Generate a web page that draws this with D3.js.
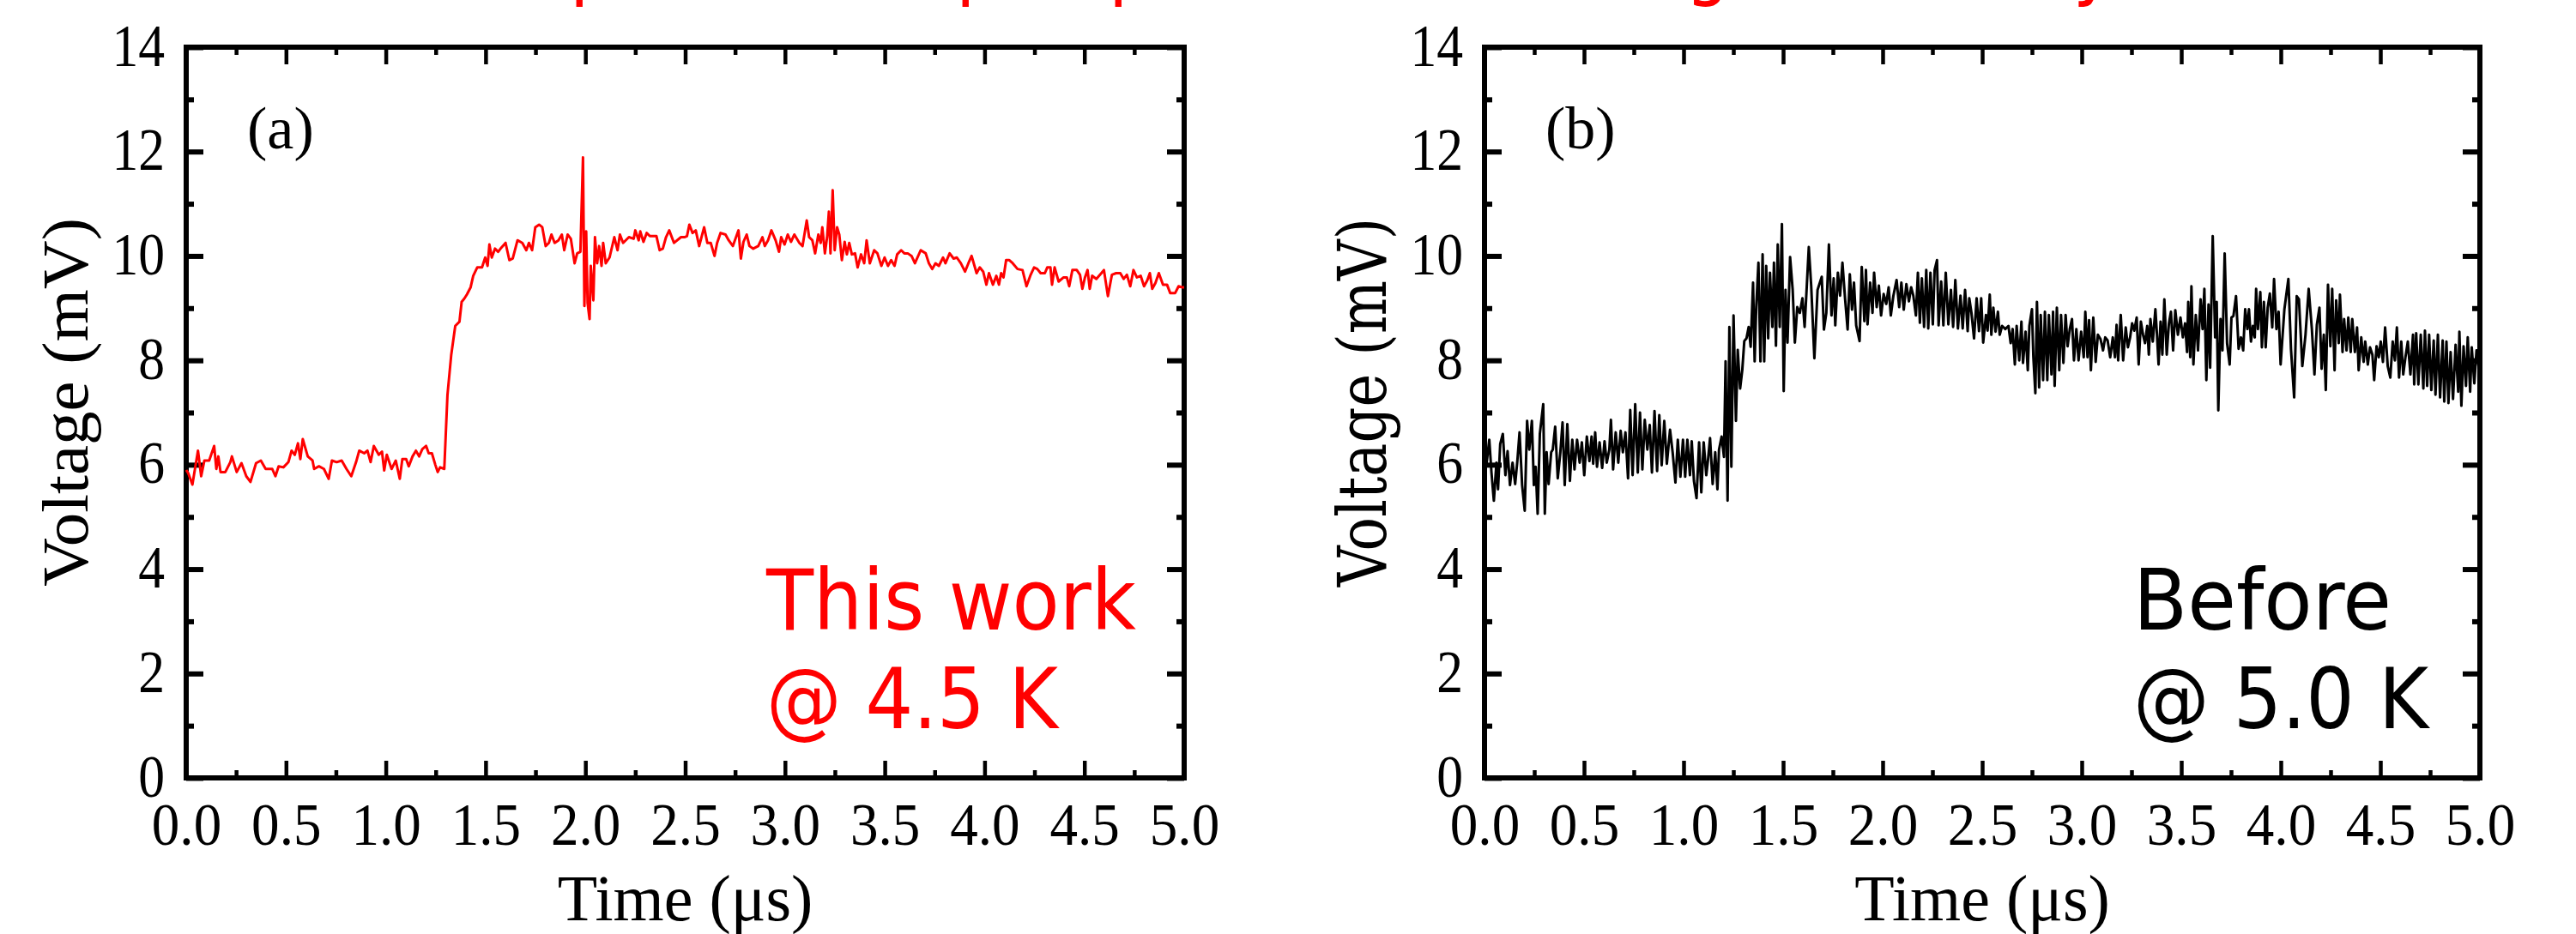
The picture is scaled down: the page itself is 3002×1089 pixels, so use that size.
<!DOCTYPE html>
<html>
<head>
<meta charset="utf-8">
<script src="https://d3js.org/d3.v7.min.js"></script>
<style>
  body { margin: 0; background: #fff; }
</style>
</head>
<body>
<script>

// ---- data ----
var timeTicks = [0, 0.5, 1, 1.5, 2, 2.5, 3, 3.5, 4, 4.5, 5];
var timeMinor = [0.25, 0.75, 1.25, 1.75, 2.25, 2.75, 3.25, 3.75, 4.25, 4.75];
var voltTicks = [0, 2, 4, 6, 8, 10, 12, 14];
var voltMinor = [1, 3, 5, 7, 9, 11, 13];

// (a) this work @ 4.5 K, [time us, voltage mV]
var redTrace = [[0.000,5.90],[0.010,5.84],[0.031,5.62],[0.059,6.27],[0.075,5.78],[0.091,6.08],[0.115,6.08],[0.140,6.36],[0.151,5.92],[0.161,6.16],[0.172,5.86],[0.196,5.86],[0.221,6.05],[0.229,6.16],[0.253,5.86],[0.277,6.03],[0.301,5.78],[0.322,5.67],[0.350,6.03],[0.374,6.08],[0.398,5.92],[0.431,5.92],[0.447,5.78],[0.463,5.97],[0.487,5.95],[0.512,6.05],[0.528,6.27],[0.544,6.19],[0.560,6.41],[0.572,6.11],[0.584,6.49],[0.609,6.16],[0.633,6.08],[0.641,5.92],[0.665,5.97],[0.690,5.92],[0.714,5.73],[0.730,6.08],[0.754,6.05],[0.779,6.08],[0.803,5.92],[0.827,5.78],[0.851,6.05],[0.867,6.27],[0.892,6.22],[0.908,6.27],[0.924,6.05],[0.940,6.36],[0.965,6.19],[0.981,6.25],[0.992,5.89],[1.005,6.19],[1.029,5.92],[1.050,6.08],[1.070,5.73],[1.083,6.11],[1.102,6.11],[1.115,5.97],[1.134,6.16],[1.151,6.27],[1.167,6.16],[1.183,6.30],[1.202,6.36],[1.215,6.22],[1.231,6.22],[1.248,6.00],[1.260,5.86],[1.272,5.95],[1.293,5.92],[1.309,7.34],[1.328,8.11],[1.348,8.66],[1.369,8.74],[1.380,9.12],[1.393,9.18],[1.406,9.26],[1.425,9.40],[1.438,9.62],[1.458,9.78],[1.482,9.78],[1.498,9.97],[1.510,9.81],[1.519,10.22],[1.531,9.97],[1.547,10.14],[1.563,10.08],[1.579,10.16],[1.600,10.25],[1.619,9.92],[1.636,9.95],[1.660,10.30],[1.684,10.25],[1.704,10.11],[1.717,10.25],[1.733,10.11],[1.749,10.55],[1.768,10.60],[1.784,10.55],[1.801,10.19],[1.817,10.25],[1.830,10.41],[1.846,10.25],[1.865,10.30],[1.882,10.41],[1.894,10.11],[1.911,10.41],[1.927,10.33],[1.946,9.86],[1.959,10.05],[1.975,10.08],[1.988,11.89],[1.995,9.04],[2.004,10.47],[2.011,9.10],[2.021,8.79],[2.027,9.81],[2.040,9.15],[2.048,10.36],[2.059,9.86],[2.069,10.19],[2.081,9.81],[2.089,10.25],[2.102,9.86],[2.121,9.97],[2.145,10.36],[2.161,10.11],[2.173,10.41],[2.189,10.25],[2.218,10.36],[2.242,10.33],[2.250,10.49],[2.267,10.30],[2.275,10.47],[2.291,10.27],[2.307,10.44],[2.323,10.38],[2.356,10.38],[2.372,10.11],[2.388,10.14],[2.404,10.36],[2.420,10.49],[2.444,10.25],
  [2.479,10.36],[2.496,10.36],[2.509,10.38],[2.521,10.60],[2.537,10.44],[2.553,10.49],[2.570,10.19],[2.595,10.55],[2.611,10.25],[2.628,10.25],[2.647,10.00],[2.660,10.25],[2.677,10.44],[2.702,10.41],[2.718,10.30],[2.739,10.19],[2.767,10.49],[2.779,9.95],[2.792,10.27],[2.808,10.41],[2.822,10.19],[2.841,10.14],[2.866,10.19],[2.887,10.36],[2.899,10.19],[2.915,10.30],[2.932,10.49],[2.953,10.30],[2.970,10.08],[2.981,10.36],[2.998,10.22],[3.014,10.41],[3.030,10.27],[3.047,10.41],[3.072,10.25],[3.088,10.19],[3.109,10.68],[3.121,10.36],[3.137,10.30],[3.151,10.05],[3.167,10.41],[3.179,10.25],[3.187,10.55],[3.200,10.05],[3.211,10.36],[3.220,10.85],[3.228,10.05],[3.239,11.26],[3.249,10.11],[3.261,10.55],[3.272,10.41],[3.285,9.92],[3.299,10.27],[3.310,10.03],[3.322,10.25],[3.335,10.03],[3.351,10.05],[3.364,9.78],[3.381,10.03],[3.397,9.86],[3.409,10.30],[3.425,9.86],[3.447,10.11],[3.463,10.05],[3.483,9.81],[3.499,9.97],[3.516,9.81],[3.532,9.92],[3.549,9.81],[3.562,10.03],[3.582,10.11],[3.598,10.05],[3.615,10.05],[3.634,10.00],[3.651,9.86],[3.680,10.11],[3.705,10.05],[3.721,9.86],[3.738,9.75],[3.754,9.86],[3.771,9.81],[3.792,9.97],[3.804,9.86],[3.825,10.05],[3.845,9.95],[3.861,9.97],[3.881,9.86],[3.902,9.70],[3.919,9.86],[3.935,10.00],[3.960,9.67],[3.976,9.78],[3.993,9.70],[4.009,9.45],[4.022,9.67],[4.042,9.45],[4.059,9.62],[4.072,9.45],[4.083,9.67],[4.095,9.59],[4.108,9.92],[4.124,9.92],[4.141,9.86],[4.165,9.75],[4.190,9.73],[4.210,9.42],[4.231,9.64],[4.248,9.78],[4.264,9.75],[4.281,9.67],[4.302,9.67],[4.314,9.78],[4.330,9.78],[4.338,9.45],[4.351,9.78],[4.371,9.51],[4.396,9.59],[4.412,9.59],[4.424,9.42],[4.440,9.73],[4.462,9.73],[4.478,9.64],[4.490,9.37],[4.503,9.59],[4.516,9.73],[4.527,9.37],[4.539,9.62],[4.560,9.56],[4.585,9.67],[4.598,9.73],[4.618,9.23],[4.638,9.64],[4.659,9.67],[4.680,9.67],[4.697,9.56],[4.713,9.64],[4.730,9.42],[4.746,9.73],[4.763,9.59],[4.782,9.62],[4.799,9.42],[4.815,9.53],[4.828,9.67],[4.840,9.37],[4.856,9.48],[4.873,9.67],[4.894,9.45],[4.914,9.45],[4.930,9.29],[4.955,9.29],[4.972,9.42],[4.988,9.40],[5.000,9.40]];

// (b) before @ 5.0 K, [time us, voltage mV]
var blackTrace = [[0.000,6.10],[0.011,6.04],[0.024,6.48],[0.035,5.85],[0.047,5.31],[0.060,6.04],[0.068,5.53],[0.079,6.40],[0.092,6.59],[0.105,5.80],[0.116,6.26],[0.128,5.61],[0.141,6.04],[0.154,5.63],[0.165,6.07],[0.176,6.62],[0.189,5.61],[0.202,5.12],[0.214,6.84],[0.225,6.29],[0.238,6.84],[0.248,5.61],[0.257,5.96],[0.267,5.06],[0.278,6.59],[0.295,7.16],[0.303,5.06],[0.312,6.24],[0.322,5.63],[0.335,6.24],[0.343,6.29],[0.355,6.73],[0.368,5.74],[0.381,6.24],[0.392,6.81],[0.403,5.61],[0.416,6.78],[0.429,5.69],[0.441,6.48],[0.452,5.91],[0.465,6.48],[0.478,6.04],[0.489,6.43],[0.501,5.80],[0.514,6.54],[0.527,6.07],[0.538,6.54],[0.546,6.02],[0.556,6.62],[0.565,5.96],[0.578,6.43],[0.591,5.94],[0.603,6.45],[0.614,6.04],[0.627,6.29],[0.635,6.86],[0.646,5.91],[0.659,6.62],[0.672,6.04],[0.684,6.65],[0.695,6.24],[0.708,6.62],[0.721,5.74],[0.732,7.05],[0.744,5.80],[0.757,7.16],[0.770,5.85],[0.781,7.00],[0.793,5.91],[0.805,6.86],[0.818,6.29],[0.830,6.76],[0.841,5.85],[0.854,7.03],[0.867,5.88],[0.878,6.95],[0.890,5.99],[0.903,6.84],[0.916,6.02],[0.932,6.67],[0.945,6.24],[0.959,5.66],[0.971,6.48],[0.984,5.77],[0.997,6.48],[1.008,5.77],[1.019,6.48],[1.032,5.80],[1.041,6.45],[1.052,5.69],[1.065,5.36],[1.078,6.43],[1.089,5.47],[1.101,6.43],[1.114,5.80],[1.122,6.07],[1.133,6.51],[1.146,5.63],[1.159,6.24],[1.170,5.53],[1.178,6.29],[1.191,6.54],[1.203,6.15],
  [1.211,7.98],[1.221,5.31],[1.230,8.64],[1.240,5.96],[1.251,8.86],[1.263,6.84],[1.272,8.20],[1.284,7.46],[1.295,7.82],[1.305,8.37],[1.316,8.42],[1.327,8.64],[1.337,8.26],[1.349,9.49],[1.357,7.98],[1.365,9.02],[1.376,9.87],[1.386,7.98],[1.397,10.03],[1.405,7.98],[1.415,9.81],[1.425,8.42],[1.434,9.68],[1.446,8.64],[1.454,9.87],[1.464,8.28],[1.473,10.22],[1.483,8.64],[1.494,10.61],[1.503,7.41],[1.512,9.35],[1.522,8.34],[1.535,9.98],[1.548,9.35],[1.559,8.34],[1.571,9.02],[1.584,8.91],[1.597,9.19],[1.608,8.64],[1.619,9.43],[1.629,10.17],[1.641,9.43],[1.657,8.04],[1.673,9.35],[1.694,9.60],[1.705,8.59],[1.717,8.91],[1.730,10.22],[1.743,8.86],[1.754,9.57],[1.762,8.67],[1.775,9.68],[1.786,9.24],[1.798,9.87],[1.811,9.19],[1.824,8.59],[1.835,9.65],[1.846,8.97],[1.856,9.49],[1.867,8.67],[1.884,8.37],[1.895,9.79],[1.908,8.75],[1.916,9.73],[1.924,8.69],[1.937,9.49],[1.949,8.91],[1.957,9.68],[1.970,9.02],[1.981,9.43],[1.992,8.86],[2.005,9.27],[2.018,9.08],[2.030,9.40],[2.041,8.86],[2.054,9.24],[2.070,9.54],[2.083,9.02],[2.094,9.49],[2.106,8.97],[2.119,9.46],[2.132,9.13],[2.143,9.40],[2.154,9.24],[2.167,8.86],[2.177,9.68],[2.187,8.72],[2.197,9.57],[2.208,8.64],[2.219,9.73],[2.229,8.61],[2.240,9.68],[2.252,8.69],[2.261,9.73],[2.273,9.92],[2.281,8.67],[2.294,9.51],[2.305,8.67],[2.317,9.68],[2.330,8.69],[2.343,9.35],[2.354,8.64],[2.365,9.54],[2.378,8.61],[2.391,9.24],[2.402,8.61],[2.414,9.35],[2.427,8.56],[2.435,9.19],[2.446,8.91],[2.459,8.42],[2.472,9.19],[2.484,8.56],[2.495,9.19],[2.505,8.34],
  [2.519,8.87],[2.527,8.57],[2.538,9.26],[2.546,8.49],[2.556,9.01],[2.567,8.55],[2.579,8.93],[2.588,8.49],[2.600,8.66],[2.616,8.60],[2.632,8.66],[2.643,8.33],[2.653,8.60],[2.664,7.92],[2.673,8.66],[2.686,8.00],[2.697,8.74],[2.705,7.95],[2.718,8.55],[2.729,7.81],[2.737,8.66],[2.750,8.98],[2.757,8.06],[2.767,7.37],[2.775,9.12],[2.786,7.48],[2.794,8.87],[2.806,7.62],[2.815,8.93],[2.827,7.62],[2.835,8.87],[2.848,7.73],[2.856,8.93],[2.864,7.51],[2.875,9.01],[2.887,7.81],[2.896,8.87],[2.908,7.95],[2.919,8.87],[2.929,8.27],[2.940,8.60],[2.951,8.79],[2.961,8.00],[2.973,8.60],[2.984,8.00],[2.997,8.55],[3.010,8.06],[3.018,8.93],[3.029,8.06],[3.037,8.77],[3.046,7.81],[3.058,8.82],[3.070,7.97],[3.081,8.49],[3.094,8.41],[3.107,8.19],[3.118,8.44],[3.130,8.38],[3.143,8.06],[3.156,8.44],[3.167,8.06],[3.175,8.68],[3.183,8.00],[3.196,8.87],[3.208,8.00],[3.221,8.63],[3.232,8.25],[3.243,8.44],[3.253,8.71],[3.264,8.57],[3.276,8.82],[3.286,7.92],[3.297,8.74],[3.308,8.49],[3.318,8.33],[3.329,8.66],[3.337,8.11],[3.345,8.79],[3.357,8.36],[3.370,8.98],[3.378,8.49],[3.386,7.92],[3.396,8.74],[3.405,8.11],[3.415,9.17],[3.427,8.11],[3.438,8.71],[3.448,8.93],[3.459,8.19],[3.470,8.96],[3.483,8.49],[3.496,8.82],[3.508,8.44],[3.519,8.71],[3.529,8.16],[3.535,9.12],[3.545,8.06],[3.551,9.42],[3.561,7.92],[3.573,8.87],[3.584,8.19],[3.597,9.17],[3.607,8.60],[3.616,9.37],[3.626,7.62],[3.637,9.07],[3.645,7.86],[3.658,10.38],[3.670,8.44],[3.678,9.12],[3.686,7.04],[3.697,8.79],[3.707,8.19],[3.718,10.05],[3.730,8.33],[3.743,7.92],[3.752,8.82],[3.762,8.85],[3.775,9.23],[3.788,8.22],[3.800,8.44],[3.811,8.19],[3.821,8.98],[3.832,8.60],[3.840,8.98],[3.850,8.36],[3.860,8.66],[3.869,8.44],[3.876,9.37],[3.885,8.60],[3.897,9.31],[3.905,8.25],[3.915,9.12],[3.924,8.25],[3.934,9.01],[3.945,9.28],[3.957,8.63],[3.966,9.56],[3.978,8.60],[3.989,8.93],[3.999,7.92],[4.018,8.98],[4.038,9.56],[4.051,8.22],[4.067,7.29],[4.080,9.23],[4.091,9.17],[4.108,7.89],[4.124,8.49],[4.140,9.37],[4.156,8.60],[4.169,7.73],[4.181,8.68],[4.194,9.01],[4.205,7.84],[4.216,8.49],[4.226,7.43],[4.237,9.45],[4.249,8.27],[4.258,9.37],[4.270,7.81],[4.278,9.15],[4.291,8.33],[4.297,9.26],[4.310,8.16],[4.318,8.79],[4.330,8.19],[4.339,8.82],[4.351,8.16],[4.359,8.79],[4.372,8.16],[4.383,8.63],[4.391,7.81],[4.404,8.44],[4.416,7.97],[4.424,8.36],[4.437,7.92],[4.448,8.25],[4.460,8.11],[4.469,7.62],[4.481,8.27],[4.492,8.06],[4.502,8.36],[4.513,7.97],[4.524,8.63],[4.537,7.89],[4.550,7.67],[4.562,8.36],[4.573,8.00],[4.583,8.63],[4.594,7.67],[4.605,8.36],[4.615,7.73],[4.626,8.06],[4.638,8.36],[4.651,7.73],[4.664,8.49],[4.670,7.54],[4.680,8.52],[4.691,7.54],[4.703,8.49],[4.716,7.46],[4.724,8.57],[4.735,7.51],[4.745,8.49],[4.756,7.43],[4.768,8.38],[4.777,7.34],[4.789,8.49],[4.800,7.29],[4.813,8.38],[4.821,7.21],[4.832,8.36],[4.842,7.18],[4.853,8.16],[4.865,7.26],[4.878,8.30],[4.891,7.40],[4.897,8.55],[4.907,7.13],[4.918,8.27],[4.930,7.51],[4.939,8.44],[4.951,7.40],[4.959,8.25],[4.972,7.56],[4.983,8.19],[5.000,7.70]];

var panelLetters = ["(a)", "(b)"];
var noteLines = [["This work", "@ 4.5 K"], ["Before", "@ 5.0 K"]];
var xTitle = "Time (\u03bcs)";
var yTitle = "Voltage (mV)";

// ---- layout ----
var W = 3002, H = 1089;
var plotTop = 55, plotBottom = 907;
var serif = "'Liberation Serif', 'Times New Roman', serif";
var comic = "'Comic Sans MS', 'DejaVu Sans Condensed', 'DejaVu Sans', sans-serif";

var panels = [
  {left: 217, right: 1380, data: redTrace, color: "#ff0000", letter: panelLetters[0],
   note: noteLines[0], noteX: 893, noteLen: [431, 340], yFont: serif, ySize: 77},
  {left: 1730, right: 2890, data: blackTrace, color: "#000000", letter: panelLetters[1],
   note: noteLines[1], noteX: 2486, noteLen: [301, 344], yFont: "'DejaVu Serif', serif", ySize: 78}
];

var svg = d3.select("body").append("svg")
    .attr("width", W)
    .attr("height", H)
    .style("display", "block");

// squeeze text a bit, the original figure is slightly condensed
function condense(sel, k) {
  sel.each(function() {
    var w = this.getComputedTextLength();
    d3.select(this).attr("textLength", w * k).attr("lengthAdjust", "spacingAndGlyphs");
  });
}

function styleTicks(g, width) {
  g.select(".domain").remove();
  g.selectAll(".tick line").attr("stroke", "#000").attr("stroke-width", width);
}

panels.forEach(function(p) {
  var x = d3.scaleLinear().domain([0, 5]).range([p.left, p.right]);
  var y = d3.scaleLinear().domain([0, 14]).range([plotBottom, plotTop]);

  // bottom
  var gb = svg.append("g")
      .attr("transform", "translate(0," + plotBottom + ")")
      .call(d3.axisBottom(x).tickValues(timeTicks).tickFormat(d3.format(".1f"))
        .tickSize(-20).tickPadding(28))
      .attr("font-size", 70).attr("font-family", serif);
  styleTicks(gb, 4.5);
  gb.selectAll("text").attr("fill", "#000");
  condense(gb.selectAll("text"), 0.93);

  svg.append("g")
      .attr("transform", "translate(0," + plotBottom + ")")
      .call(d3.axisBottom(x).tickValues(timeMinor).tickFormat("").tickSize(-9))
      .call(styleTicks, 4.5);

  // top
  svg.append("g")
      .attr("transform", "translate(0," + plotTop + ")")
      .call(d3.axisTop(x).tickValues(timeTicks).tickFormat("").tickSize(-20))
      .call(styleTicks, 4.5);
  svg.append("g")
      .attr("transform", "translate(0," + plotTop + ")")
      .call(d3.axisTop(x).tickValues(timeMinor).tickFormat("").tickSize(-9))
      .call(styleTicks, 4.5);

  // left
  var gl = svg.append("g")
      .attr("transform", "translate(" + p.left + ",0)")
      .call(d3.axisLeft(y).tickValues(voltTicks).tickSize(-20).tickPadding(25))
      .attr("font-size", 70).attr("font-family", serif);
  styleTicks(gl, 6);
  gl.selectAll("text").attr("fill", "#000").attr("dy", "0.30em");
  condense(gl.selectAll("text"), 0.88);

  svg.append("g")
      .attr("transform", "translate(" + p.left + ",0)")
      .call(d3.axisLeft(y).tickValues(voltMinor).tickFormat("").tickSize(-9))
      .call(styleTicks, 6);

  // right
  svg.append("g")
      .attr("transform", "translate(" + p.right + ",0)")
      .call(d3.axisRight(y).tickValues(voltTicks).tickFormat("").tickSize(-20))
      .call(styleTicks, 6);
  svg.append("g")
      .attr("transform", "translate(" + p.right + ",0)")
      .call(d3.axisRight(y).tickValues(voltMinor).tickFormat("").tickSize(-9))
      .call(styleTicks, 6);

  // frame
  svg.append("rect")
      .attr("x", p.left).attr("y", plotTop)
      .attr("width", p.right - p.left).attr("height", plotBottom - plotTop)
      .attr("fill", "none").attr("stroke", "#000").attr("stroke-width", 6);

  // trace
  var line = d3.line()
      .x(function(d) { return x(d[0]); })
      .y(function(d) { return y(d[1]); });

  svg.append("path")
      .datum(p.data)
      .attr("d", line)
      .attr("fill", "none")
      .attr("stroke", p.color)
      .attr("stroke-width", 3)
      .attr("stroke-linejoin", "round");

  // axis titles
  svg.append("text")
      .attr("x", (p.left + p.right) / 2)
      .attr("y", 1073)
      .attr("text-anchor", "middle")
      .attr("font-family", serif)
      .attr("font-size", 76)
      .text(xTitle);

  svg.append("text")
      .attr("transform", "translate(" + (p.left - 115) + ",469) rotate(-90)")
      .attr("text-anchor", "middle")
      .attr("font-family", p.yFont)
      .attr("font-size", p.ySize)
      .attr("textLength", 430)
      .attr("lengthAdjust", "spacingAndGlyphs")
      .text(yTitle);

  // panel letter
  svg.append("text")
      .attr("x", p.left + 71)
      .attr("y", 173)
      .attr("font-family", serif)
      .attr("font-size", 70)
      .text(p.letter);

  // note
  p.note.forEach(function(s, i) {
    svg.append("text")
        .attr("x", p.noteX)
        .attr("y", i === 0 ? 734 : 849)
        .attr("font-family", comic)
        .attr("font-size", 98)
        .attr("fill", p.color)
        .attr("textLength", p.noteLen[i])
        .attr("lengthAdjust", "spacingAndGlyphs")
        .text(s);
  });
});

// descenders of the red headline cut off at the top edge
var head = svg.append("text")
    .attr("y", -11)
    .attr("font-family", comic)
    .attr("font-size", 90)
    .attr("fill", "#ff0000")
    .attr("text-anchor", "middle");
[["p", 690], ["p", 1140], ["p", 1318], ["g", 1990], ["y", 2440]].forEach(function(c) {
  head.append("tspan").attr("x", c[1]).text(c[0]);
});

</script>
</body>
</html>
